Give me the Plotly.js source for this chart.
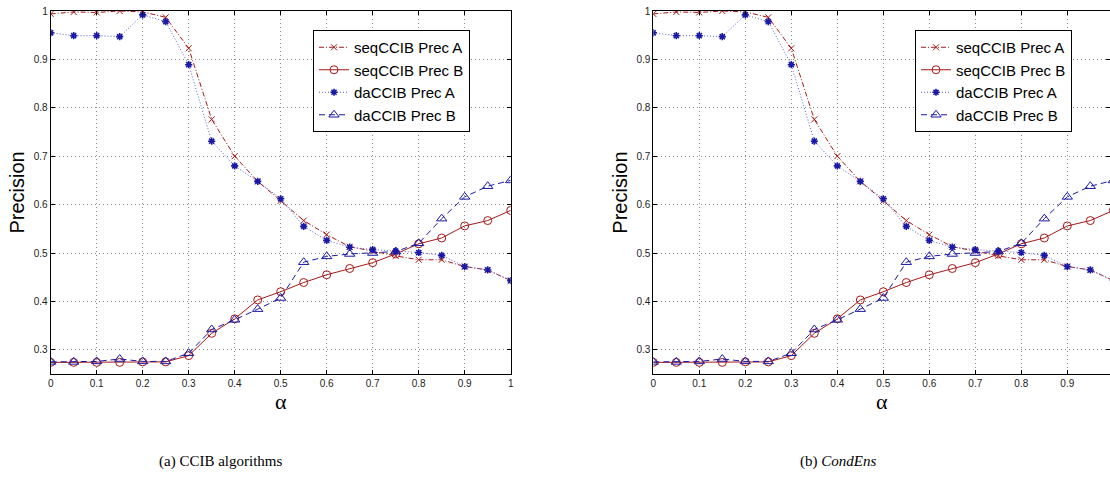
<!DOCTYPE html>
<html>
<head>
<meta charset="utf-8">
<script src="https://cdn.plot.ly/plotly-3.0.1.min.js"></script>
<style>html,body{margin:0;padding:0;background:#fff;}#chart{width:1110px;height:479px;}</style>
</head>
<body>
<div id="chart"></div>
<script>
const alpha = [0,0.05,0.1,0.15,0.2,0.25,0.3,0.35,0.4,0.45,0.5,0.55,0.6,0.65,0.7,0.75,0.8,0.85,0.9,0.95,1.0];
const seqPrecA = [0.994,0.998,0.997,1.0,0.998,0.987,0.923,0.776,0.700,0.648,0.608,0.567,0.538,0.513,0.504,0.494,0.486,0.486,0.472,0.465,0.443];
const seqPrecB = [0.274,0.274,0.274,0.274,0.275,0.275,0.288,0.334,0.364,0.403,0.420,0.439,0.455,0.468,0.480,0.498,0.519,0.531,0.556,0.567,0.588];
const daPrecA  = [0.955,0.949,0.949,0.947,0.992,0.978,0.889,0.731,0.680,0.648,0.612,0.555,0.526,0.512,0.507,0.504,0.501,0.495,0.472,0.465,0.443];
const daPrecB  = [0.275,0.275,0.276,0.281,0.276,0.276,0.293,0.342,0.362,0.384,0.407,0.481,0.493,0.498,0.500,0.503,0.520,0.571,0.616,0.638,0.650];
const seriesNames = ['seqCCIB Prec A','seqCCIB Prec B','daCCIB Prec A','daCCIB Prec B'];
const captions = ['(a) CCIB algorithms','(b) <i>CondEns</i>'];
const xTicks = [0,0.1,0.2,0.3,0.4,0.5,0.6,0.7,0.8,0.9,1];
const yTicks = [0.3,0.4,0.5,0.6,0.7,0.8,0.9,1];

const RED = 'rgb(165,25,25)';
const BLUE = 'rgb(25,25,165)';

function makeTraces(xa, ya, leg){
  return [
    {x: alpha, y: seqPrecA, name: seriesNames[0], xaxis: xa, yaxis: ya, legend: leg, mode: 'lines+markers',
     line: {color: RED, dash: '5px,2px,1px,2px', width: 1}, marker: {symbol: 'x-thin-open', size: 6, color: RED, line: {color: RED, width: 1}}},
    {x: alpha, y: seqPrecB, name: seriesNames[1], xaxis: xa, yaxis: ya, legend: leg, mode: 'lines+markers',
     line: {color: RED, dash: 'solid', width: 1}, marker: {symbol: 'circle-open', size: 8, color: RED, line: {color: RED, width: 1}}},
    {x: alpha, y: daPrecA, name: seriesNames[2], xaxis: xa, yaxis: ya, legend: leg, mode: 'lines+markers',
     line: {color: 'rgb(90,90,210)', dash: '1px,2px', width: 1}, marker: {symbol: 'asterisk-open', size: 6, color: BLUE, line: {color: BLUE, width: 1.6}}},
    {x: alpha, y: daPrecB, name: seriesNames[3], xaxis: xa, yaxis: ya, legend: leg, mode: 'lines+markers',
     line: {color: BLUE, dash: '6px,4px', width: 1}, marker: {symbol: 'triangle-up-open', size: 9, color: BLUE, line: {color: BLUE, width: 1}}}
  ];
}

const data = makeTraces('x','y','legend').concat(makeTraces('x2','y2','legend2'));

const W = 1110, H = 479;
function xaxisDef(dom, range){
  return {domain: dom, range: range, tickvals: xTicks, ticktext: xTicks.map(String),
    showline: true, linecolor: '#000', linewidth: 1, mirror: 'ticks', ticks: 'inside', ticklen: 4, tickcolor: '#000',
    showgrid: true, gridcolor: '#888', griddash: '1px,3px', gridwidth: 1, zeroline: false,
    tickfont: {family: 'Liberation Sans, Arial, sans-serif', size: 10, color: '#222'},
    title: {text: 'α', font: {family: 'Liberation Serif, serif', size: 22, color: '#000'}, standoff: 0}};
}
function yaxisDef(anchor){
  return {domain: [(H-374)/H, (H-11)/H], range: [0.25, 1], anchor: anchor, tickvals: yTicks, ticktext: yTicks.map(String),
    showline: true, linecolor: '#000', linewidth: 1, mirror: 'ticks', ticks: 'inside', ticklen: 4, tickcolor: '#000',
    showgrid: true, gridcolor: '#888', griddash: '1px,3px', gridwidth: 1, zeroline: false,
    tickfont: {family: 'Liberation Sans, Arial, sans-serif', size: 10, color: '#222'},
    title: {text: 'Precision', font: {family: 'Liberation Sans, Arial, sans-serif', size: 20, color: '#000'}, standoff: 3}};
}
const legendDef = (xpx) => ({x: xpx/W, y: (H-30)/H, xanchor: 'left', yanchor: 'top', bgcolor: '#fff',
  bordercolor: '#000', borderwidth: 1, font: {family: 'Liberation Sans, Arial, sans-serif', size: 15, color: '#000'},
  tracegroupgap: 0, itemwidth: 30});

const layout = {
  width: W, height: H, margin: {l: 0, r: 0, t: 0, b: 0},
  paper_bgcolor: '#fff', plot_bgcolor: '#fff', showlegend: true,
  xaxis: Object.assign(xaxisDef([50.7/W, 510.7/W], [0, 1]), {anchor: 'y'}),
  yaxis: yaxisDef('x'),
  xaxis2: Object.assign(xaxisDef([653.3/W, 1], [0, (W-653.3)/460]), {anchor: 'y2'}),
  yaxis2: yaxisDef('x2'),
  legend: legendDef(313),
  legend2: legendDef(915),
  annotations: [
    {text: captions[0], xref: 'paper', yref: 'paper', x: 220/W, y: (H-461)/H, xanchor: 'center', yanchor: 'middle', showarrow: false,
     font: {family: 'Liberation Serif, serif', size: 15, color: '#000'}},
    {text: captions[1], xref: 'paper', yref: 'paper', x: 838/W, y: (H-461)/H, xanchor: 'center', yanchor: 'middle', showarrow: false,
     font: {family: 'Liberation Serif, serif', size: 15, color: '#000'}}
  ]
};

Plotly.newPlot('chart', data, layout, {displayModeBar: false, staticPlot: true});
</script>
</body>
</html>
